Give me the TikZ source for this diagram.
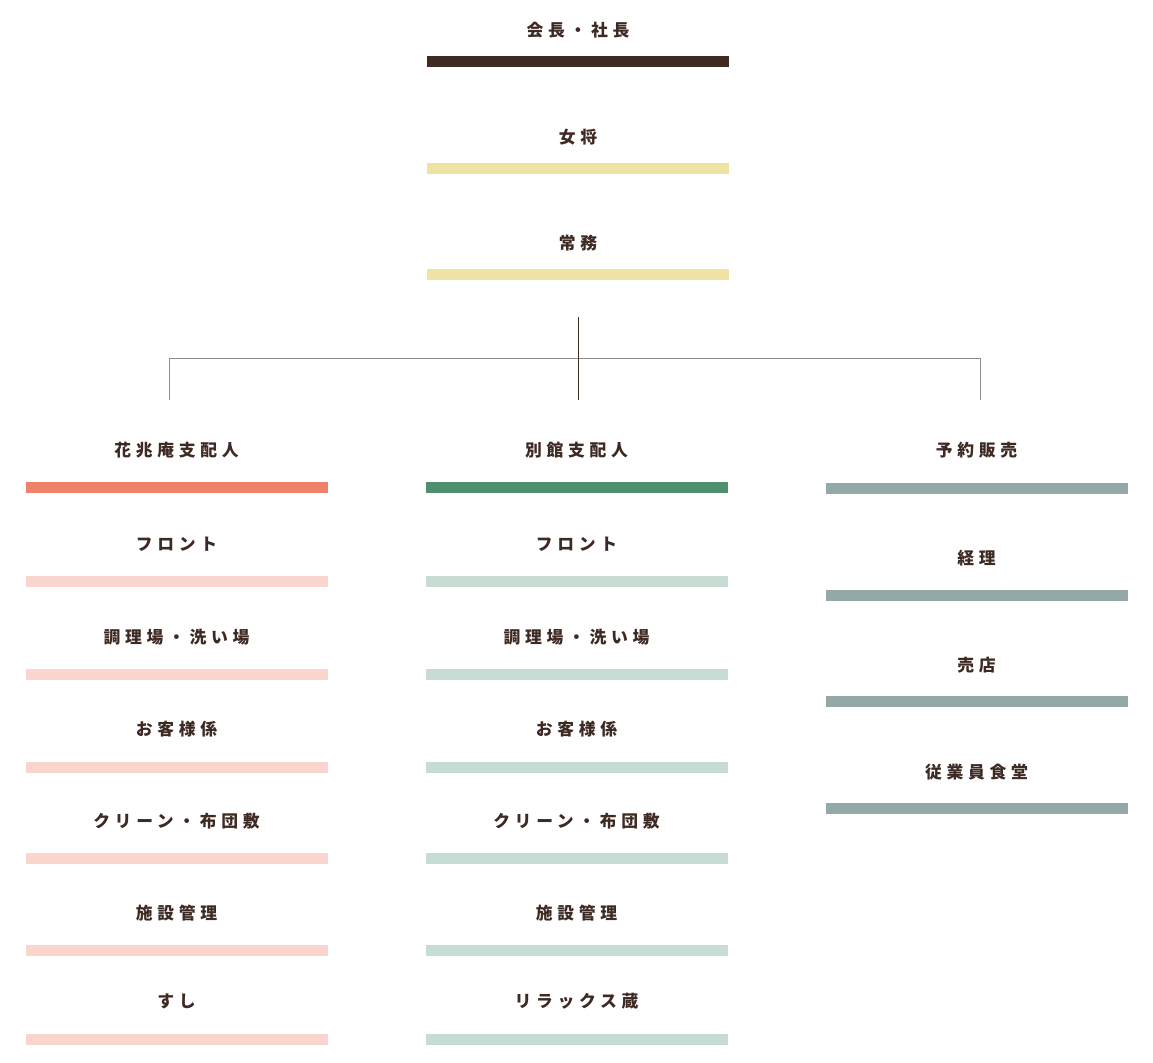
\documentclass[tikz,border=0pt]{standalone}
\usepackage{fontspec}
\newfontfamily\jpfont{Noto Sans CJK JP}[LetterSpace=28]
\usetikzlibrary{positioning}
\definecolor{inkbrown}{HTML}{3D2A23}
\definecolor{topbrown}{HTML}{3F2A22}
\definecolor{paleyellow}{HTML}{F0E2A3}
\definecolor{salmon}{HTML}{EE8268}
\definecolor{palepink}{HTML}{F9D5CE}
\definecolor{deepgreen}{HTML}{4F8F6E}
\definecolor{palegreen}{HTML}{C7DDD4}
\definecolor{slategray}{HTML}{95A8A8}
\definecolor{linegray}{HTML}{948A85}
\tikzset{
  role/.style={inner sep=0pt, text=inkbrown, font=\jpfont\bfseries\fontsize{12.6pt}{14pt}\selectfont},
  bar/.style={inner sep=0pt, draw=none, minimum width=226.5pt, minimum height=8.25pt},
  link/.style={line width=0.75pt, linegray}
}

\begin{document}
\begin{tikzpicture}[x=0.75pt, y=-0.75pt]
\useasboundingbox (0,0) rectangle (1153,1063);
% Top
    \node[role] (pres) at (578,30) {会長・社長};
    \node[bar, fill=topbrown] (presbar) at (578,61.5) {};
    \node[role] (okami) at (578,137) {女将};
    \node[bar, fill=paleyellow] (okamibar) at (578,168.5) {};
    \node[role] (jomu) at (578,243) {常務};
    \node[bar, fill=paleyellow] (jomubar) at (578,274.5) {};
% Branches
    \coordinate (trunk) at (578,317);
    \coordinate (hub) at (578,358);
    \coordinate (midend) at (578,400);
    \coordinate (leftturn) at (169,358);
    \coordinate (leftend) at (169,400);
    \coordinate (rightturn) at (980,358);
    \coordinate (rightend) at (980,400);
    \draw[link] (leftend) -- (leftturn) -- (rightturn) -- (rightend);
    \draw[line width=0.75pt, inkbrown] (trunk) -- (midend);
% Left column
    \node[role] (kaho) at (176.5,450) {花兆庵支配人};
    \node[bar, fill=salmon] (kahobar) at (176.5,487.5) {};
    \node[role] (lfront) at (176.5,544) {フロント};
    \node[bar, fill=palepink] (lfrontbar) at (176.5,581.5) {};
    \node[role] (lkitchen) at (176.5,637) {調理場・洗い場};
    \node[bar, fill=palepink] (lkitchenbar) at (176.5,674.5) {};
    \node[role] (lguest) at (176.5,729) {お客様係};
    \node[bar, fill=palepink] (lguestbar) at (176.5,767.5) {};
    \node[role] (lclean) at (176.5,821) {クリーン・布団敷};
    \node[bar, fill=palepink] (lcleanbar) at (176.5,858.5) {};
    \node[role] (lfacility) at (176.5,913) {施設管理};
    \node[bar, fill=palepink] (lfacilitybar) at (176.5,950.5) {};
    \node[role] (sushi) at (176.5,1001) {すし};
    \node[bar, fill=palepink] (sushibar) at (176.5,1039.5) {};
% Middle column
    \node[role] (annex) at (576.5,450) {別館支配人};
    \node[bar, fill=deepgreen] (annexbar) at (576.5,487.5) {};
    \node[role] (mfront) at (576.5,544) {フロント};
    \node[bar, fill=palegreen] (mfrontbar) at (576.5,581.5) {};
    \node[role] (mkitchen) at (576.5,637) {調理場・洗い場};
    \node[bar, fill=palegreen] (mkitchenbar) at (576.5,674.5) {};
    \node[role] (mguest) at (576.5,729) {お客様係};
    \node[bar, fill=palegreen] (mguestbar) at (576.5,767.5) {};
    \node[role] (mclean) at (576.5,821) {クリーン・布団敷};
    \node[bar, fill=palegreen] (mcleanbar) at (576.5,858.5) {};
    \node[role] (mfacility) at (576.5,913) {施設管理};
    \node[bar, fill=palegreen] (mfacilitybar) at (576.5,950.5) {};
    \node[role] (relax) at (576.5,1001) {リラックス蔵};
    \node[bar, fill=palegreen] (relaxbar) at (576.5,1039.5) {};
% Right column
    \node[role] (sales) at (976.5,450) {予約販売};
    \node[bar, fill=slategray] (salesbar) at (976.5,488.5) {};
    \node[role] (account) at (976.5,558) {経理};
    \node[bar, fill=slategray] (accountbar) at (976.5,595) {};
    \node[role] (shop) at (976.5,665) {売店};
    \node[bar, fill=slategray] (shopbar) at (976.5,701.5) {};
    \node[role] (canteen) at (976.5,772) {従業員食堂};
    \node[bar, fill=slategray] (canteenbar) at (976.5,808.5) {};
\end{tikzpicture}
\end{document}
